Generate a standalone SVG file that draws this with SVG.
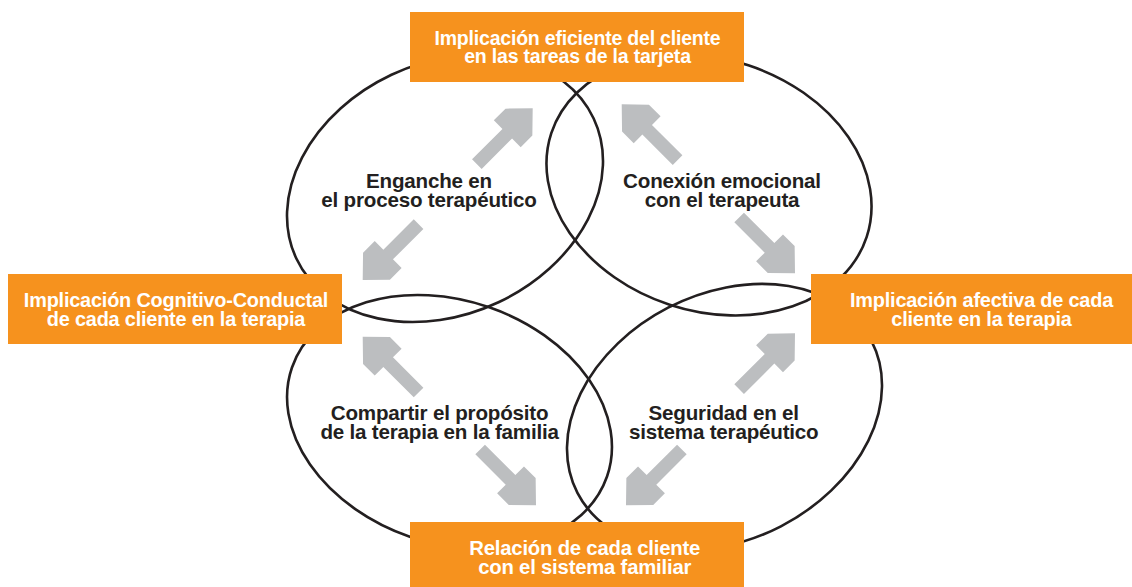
<svg xmlns="http://www.w3.org/2000/svg" xmlns:xlink="http://www.w3.org/1999/xlink" width="1132" height="587" viewBox="0 0 1132 587">
<style>
.ring{fill:none;stroke:#231F20;stroke-width:2.6}
.box{fill:#F6921E}
.bt{font-family:"Liberation Sans",Arial,sans-serif;font-weight:bold;fill:#FFFFFF;text-anchor:middle;letter-spacing:-0.2px}
.lt{font-family:"Liberation Sans",Arial,sans-serif;font-weight:bold;fill:#231F20;text-anchor:middle;font-size:20.6px;letter-spacing:-0.2px}
.arr{fill:#BCBEC0}
</style>
<defs>
<path id="arrow" d="M0,0 L-19.5,-19 L-36,-19 L-36,-6.8 L-79,-6.8 L-79,6.8 L-36,6.8 L-36,19 L-19.5,19 Z"/>
</defs>
<rect width="1132" height="587" fill="#FFFFFF"/>
<g id="rings">
<ellipse class="ring" cx="445" cy="188.5" rx="164.3" ry="125.7" transform="rotate(-25.2 445 188.5)"/>
<ellipse class="ring" cx="709" cy="185" rx="166" ry="126" transform="rotate(18.2 709 185)"/>
<ellipse class="ring" cx="449.5" cy="422" rx="166.7" ry="121.4" transform="rotate(19.1 449.5 422)"/>
<ellipse class="ring" cx="724.5" cy="417" rx="165.5" ry="123" transform="rotate(-27.3 724.5 417)"/>
</g>
<g id="connectors" class="arr">
<use xlink:href="#arrow" transform="translate(532.7 108.3) rotate(-45)"/>
<use xlink:href="#arrow" transform="translate(621.7 104.3) rotate(-135)"/>
<use xlink:href="#arrow" transform="translate(362.7 280) rotate(135)"/>
<use xlink:href="#arrow" transform="translate(362.7 336.7) rotate(-135)"/>
<use xlink:href="#arrow" transform="translate(795 273.3) rotate(45)"/>
<use xlink:href="#arrow" transform="translate(795 333.3) rotate(-45)"/>
<use xlink:href="#arrow" transform="translate(536 505.3) rotate(45)"/>
<use xlink:href="#arrow" transform="translate(626 505.3) rotate(135)"/>
</g>
<g id="label-enganche">
<text class="lt"><tspan x="429" y="188.3">Enganche en</tspan><tspan x="429" y="206.7">el proceso terapéutico</tspan></text>
</g>
<g id="label-conexion">
<text class="lt"><tspan x="722" y="188.3">Conexión emocional</tspan><tspan x="722" y="206.7">con el terapeuta</tspan></text>
</g>
<g id="label-compartir">
<text class="lt"><tspan x="439.6" y="420.3">Compartir el propósito</tspan><tspan x="439.6" y="438.7">de la terapia en la familia</tspan></text>
</g>
<g id="label-seguridad">
<text class="lt"><tspan x="723.7" y="420.3">Seguridad en el</tspan><tspan x="723.7" y="438.7">sistema terapéutico</tspan></text>
</g>
<g id="node-top">
<rect class="box" x="410" y="12" width="334" height="70"/>
<text class="bt" font-size="19.5"><tspan x="577.5" y="45">Implicación eficiente del cliente</tspan><tspan x="577.5" y="63.3">en las tareas de la tarjeta</tspan></text>
</g>
<g id="node-left">
<rect class="box" x="8" y="274" width="334" height="70"/>
<text class="bt" font-size="19.9"><tspan x="176" y="307.3">Implicación Cognitivo-Conductal</tspan><tspan x="176" y="326">de cada cliente en la terapia</tspan></text>
</g>
<g id="node-right">
<rect class="box" x="811" y="274" width="321" height="70"/>
<text class="bt" font-size="19.9"><tspan x="981.5" y="307.3">Implicación afectiva de cada</tspan><tspan x="981.5" y="326">cliente en la terapia</tspan></text>
</g>
<g id="node-bottom">
<rect class="box" x="410" y="522" width="334" height="65"/>
<text class="bt" font-size="20.3"><tspan x="584.7" y="555.3">Relación de cada cliente</tspan><tspan x="584.7" y="573.7">con el sistema familiar</tspan></text>
</g>
</svg>
